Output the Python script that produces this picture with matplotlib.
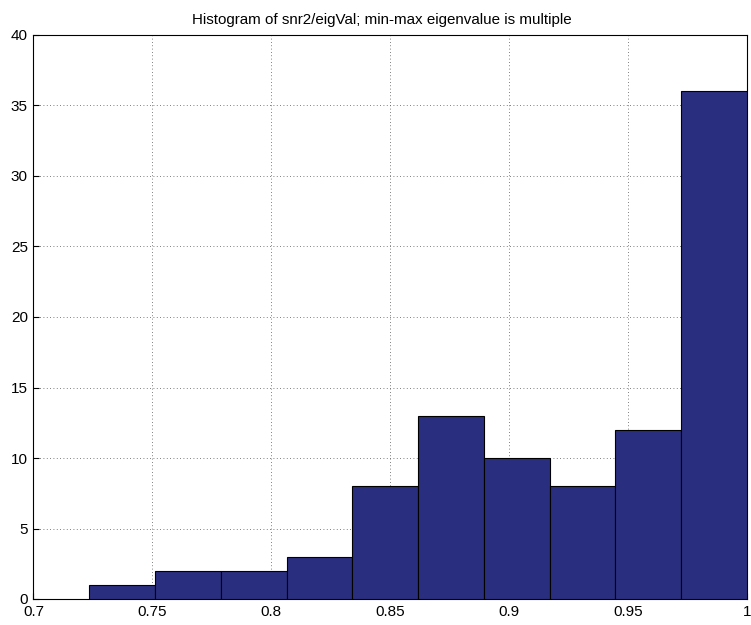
import matplotlib.pyplot as plt

# histogram data
bin_left = 0.7235
bin_width = 0.02765
counts = [1, 2, 2, 3, 8, 13, 10, 8, 12, 36]
xticks = [0.7, 0.75, 0.8, 0.85, 0.9, 0.95, 1.0]
xtick_labels = ["0.7", "0.75", "0.8", "0.85", "0.9", "0.95", "1"]
yticks = [0, 5, 10, 15, 20, 25, 30, 35, 40]

plt.rcParams["font.family"] = ["Liberation Sans", "DejaVu Sans"]

fig = plt.figure(figsize=(7.51, 6.25), dpi=100)
ax = fig.add_axes([0.0445, 0.0416, 0.9502, 0.9024])

lefts = [bin_left + i * bin_width for i in range(len(counts))]
ax.bar(lefts, counts, width=bin_width, align="edge",
       color="#2a2e7f", edgecolor="black", linewidth=0.8, zorder=3)

ax.set_xlim(0.7, 1.0)
ax.set_ylim(0, 40)
ax.set_xticks(xticks)
ax.set_xticklabels(xtick_labels)
ax.set_yticks(yticks)
ax.tick_params(direction="in", labelsize=11, length=4, pad=4)
ax.grid(True, linestyle=(0, (1, 3)), color="#555555", linewidth=0.6, zorder=0)
for s in ax.spines.values():
    s.set_linewidth(0.8)

ax.set_title("Histogram of snr2/eigVal; min-max eigenvalue is multiple",
             fontsize=10.9, pad=8, x=0.488)

fig.savefig("out.png", dpi=100)
